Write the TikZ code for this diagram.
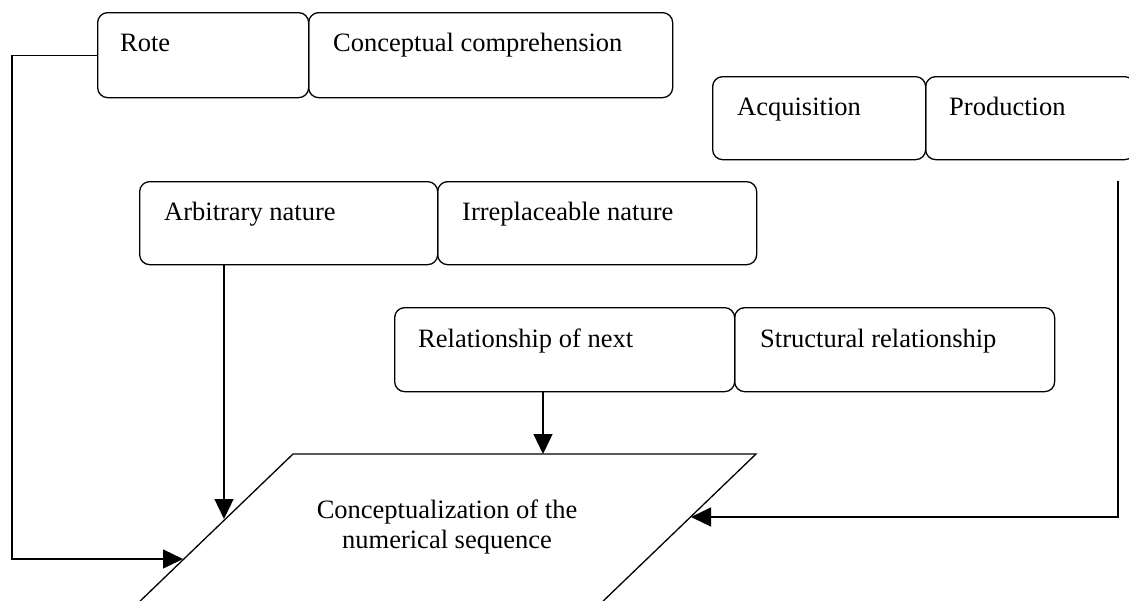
\documentclass[tikz,border=0pt]{standalone}
\usepackage{fontspec}
\setmainfont{Liberation Serif}
\usetikzlibrary{calc,arrows.meta}
\begin{document}
\begin{tikzpicture}[x=1pt,y=-1pt,
  cbox/.style={draw, line width=1.3pt, rounded corners=10pt, inner sep=0pt, anchor=north west},
  lbl/.style={anchor=base west, inner sep=0pt, font=\fontsize{26.5}{30}\selectfont},
  conn/.style={line width=1.3pt, -{Triangle[length=20pt,width=19pt]}}]
\useasboundingbox (0,0) rectangle (1129,600);

% boxes
\node[cbox, minimum width=211pt, minimum height=85pt] (rote) at (97,12) {};
\node[cbox, minimum width=364pt, minimum height=85pt] (conc) at (308,12) {};
\node[cbox, minimum width=213pt, minimum height=83pt] (acq) at (712,76) {};
\node[cbox, minimum width=209pt, minimum height=83pt] (prod) at (925,76) {};
\node[cbox, minimum width=298pt, minimum height=83pt] (arb) at (139,181) {};
\node[cbox, minimum width=319pt, minimum height=83pt] (irr) at (437,181) {};
\node[cbox, minimum width=340pt, minimum height=84pt] (rel) at (394,307) {};
\node[cbox, minimum width=320pt, minimum height=84pt] (str) at (734,307) {};

% labels
\node[lbl] (roteT) at ($(rote.north west)+(23,39.5)$) {Rote};
\node[lbl] (concT) at ($(conc.north west)+(25,39.5)$) {Conceptual comprehension};
\node[lbl] (acqT) at ($(acq.north west)+(25,39.5)$) {Acquisition};
\node[lbl] (prodT) at ($(prod.north west)+(24,39.5)$) {Production};
\node[lbl] (arbT) at ($(arb.north west)+(25,39.5)$) {Arbitrary nature};
\node[lbl] (irrT) at ($(irr.north west)+(25,39.5)$) {Irreplaceable nature};
\node[lbl] (relT) at ($(rel.north west)+(24,40)$) {Relationship of next};
\node[lbl] (strT) at ($(str.north west)+(26,40)$) {Structural relationship};

% parallelogram
\coordinate (pTL) at (293,454);
\coordinate (pTR) at (756,454);
\coordinate (pBR) at (598,606);
\coordinate (pBL) at (135,606);
\draw[line width=1.3pt] (pTL) -- (pTR) -- (pBR) -- (pBL) -- cycle;
\node[align=center, inner sep=0pt, font=\fontsize{26.5}{30}\selectfont] (goal) at (447,527)
  {Conceptualization of the\\numerical sequence};

% connector end points
\coordinate (lc) at (12,559);
\coordinate (tipL) at (183,559);
\coordinate (a0) at ($(arb.south west)+(85,0)$);
\coordinate (tipA) at (224,519);
\coordinate (r0) at ($(rel.south west)+(149,0)$);
\coordinate (tipR) at (543,454);
\coordinate (p0) at (1118,181);
\coordinate (tipP) at (691,517);

% connectors
\draw[conn] (rote.west) -| (lc) -- (tipL);
\draw[conn] (a0) -- (tipA);
\draw[conn] (r0) -- (tipR);
\draw[conn] (p0) |- (tipP);
\end{tikzpicture}
\end{document}
